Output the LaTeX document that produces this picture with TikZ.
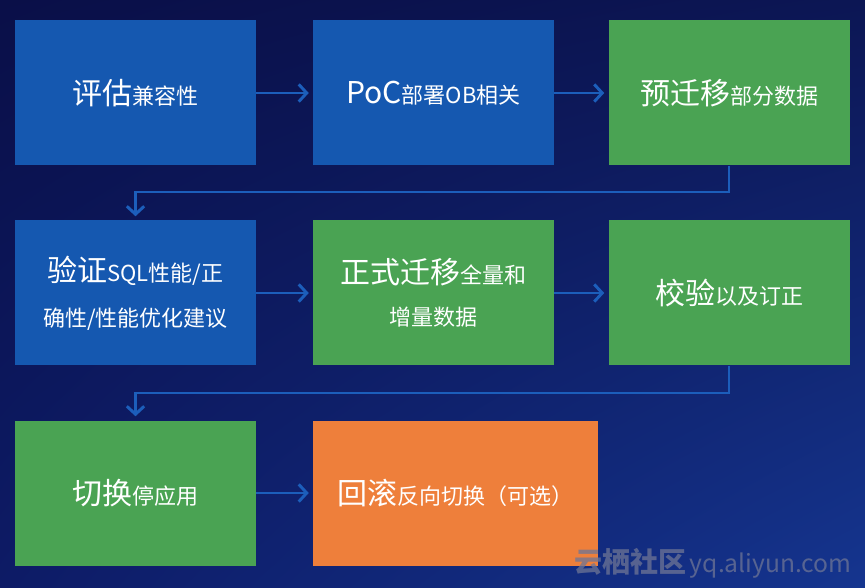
\documentclass[tikz,border=0pt]{standalone}
\usepackage{fontspec}
\setmainfont{Noto Sans CJK SC}
\newfontfamily\cjk{Noto Sans CJK SC}
\usetikzlibrary{arrows.meta,shadings}
\definecolor{bgA}{HTML}{0A0F48}
\definecolor{bgB}{HTML}{0C1654}
\definecolor{bgC}{HTML}{0D1B66}
\definecolor{bgD}{HTML}{15358F}
\definecolor{boxblue}{HTML}{1558B0}
\definecolor{boxgreen}{HTML}{4AA353}
\definecolor{boxorange}{HTML}{EE7F3B}
\definecolor{linkblue}{HTML}{1C5EBB}
\definecolor{wm}{HTML}{6E7595}
\tikzset{
  stepbox/.style={minimum width=180.75pt, minimum height=108.75pt, inner sep=0pt, text=white, align=center, font=\cjk},
  bluebox/.style={stepbox, fill=boxblue},
  greenbox/.style={stepbox, fill=boxgreen},
  orangebox/.style={stepbox, fill=boxorange, minimum width=213.75pt},
  link/.style={draw=linkblue, line width=2.2pt, -{Straight Barb[length=6pt,width=13pt,line width=2.2pt]}, shorten >=3pt},
}
\newcommand{\bigtxt}[1]{{\fontsize{22.5pt}{27pt}\selectfont #1}}
\newcommand{\smltxt}[1]{{\fontsize{16.5pt}{20pt}\selectfont #1}}
\begin{document}
\begin{tikzpicture}[x=0.75pt,y=-0.75pt]
\shade[upper left=bgA, upper right=bgB, lower left=bgC, lower right=bgD] (0,0) rectangle (865,588);
\useasboundingbox (0,0) rectangle (865,588);
\node[bluebox] (b1) at (135.5,93) {\bigtxt{评估}\smltxt{兼容性}};
\node[bluebox] (b2) at (433.5,93) {\bigtxt{PoC}\smltxt{部署OB相关}};
\node[greenbox] (b3) at (729,93) {\bigtxt{预迁移}\smltxt{部分数据}};
\node[bluebox] (b4) at (135.5,293) {\bigtxt{验证}\smltxt{SQL性能/正}\\[16pt]\smltxt{确性/性能优化建议}};
\node[greenbox] (b5) at (433.5,293) {\bigtxt{正式迁移}\smltxt{全量和}\\[15pt]\smltxt{增量数据}};
\node[greenbox] (b6) at (729,293) {\bigtxt{校验}\smltxt{以及订正}};
\node[greenbox] (b7) at (135.5,493) {\bigtxt{切换}\smltxt{停应用}};
\node[orangebox] (b8) at (455.5,493) {\bigtxt{回滚}\smltxt{反向切换（可选）}};
\coordinate (m1) at (0,192);
\coordinate (m2) at (0,393);
\draw[link] (b1) -- (b2);
\draw[link] (b2) -- (b3);
\draw[link] (b3.south) -- (b3.south |- m1) -| (b4.north);
\draw[link] (b4) -- (b5);
\draw[link] (b5) -- (b6);
\draw[link] (b6.south) -- (b6.south |- m2) -| (b7.north);
\draw[link] (b7) -- (b8);
\node[text=wm, opacity=0.75, anchor=east, font=\cjk, inner sep=0pt] (wmk) at (852,563) {{\fontsize{21pt}{24pt}\selectfont\bfseries 云栖社区} {\fontsize{18.5pt}{21pt}\selectfont yq.aliyun.com}};
\end{tikzpicture}
\end{document}
